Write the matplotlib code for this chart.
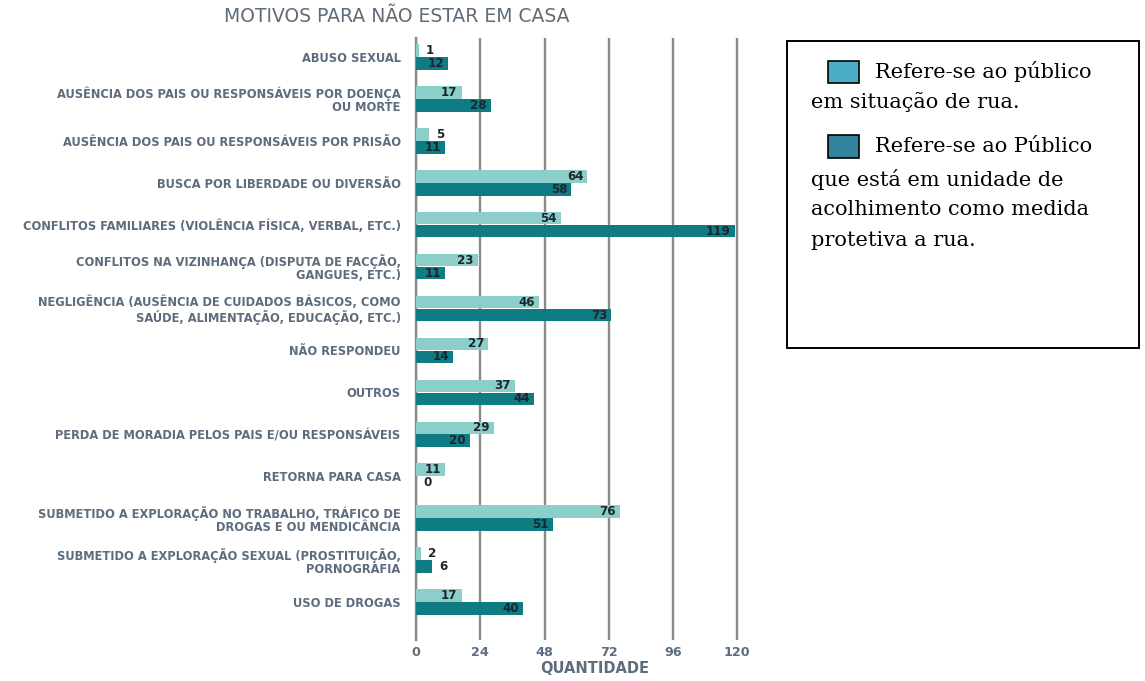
import matplotlib
matplotlib.use("Agg")
import matplotlib.pyplot as plt
from matplotlib.patches import Rectangle
import numpy as np

# dados
motivos = [
    "ABUSO SEXUAL",
    "AUSÊNCIA DOS PAIS OU RESPONSÁVEIS POR DOENÇA\nOU MORTE",
    "AUSÊNCIA DOS PAIS OU RESPONSÁVEIS POR PRISÃO",
    "BUSCA POR LIBERDADE OU DIVERSÃO",
    "CONFLITOS FAMILIARES (VIOLÊNCIA FÍSICA, VERBAL, ETC.)",
    "CONFLITOS NA VIZINHANÇA (DISPUTA DE FACÇÃO,\nGANGUES, ETC.)",
    "NEGLIGÊNCIA (AUSÊNCIA DE CUIDADOS BÁSICOS, COMO\nSAÚDE, ALIMENTAÇÃO, EDUCAÇÃO, ETC.)",
    "NÃO RESPONDEU",
    "OUTROS",
    "PERDA DE MORADIA PELOS PAIS E/OU RESPONSÁVEIS",
    "RETORNA PARA CASA",
    "SUBMETIDO A EXPLORAÇÃO NO TRABALHO, TRÁFICO DE\nDROGAS E OU MENDICÂNCIA",
    "SUBMETIDO A EXPLORAÇÃO SEXUAL (PROSTITUIÇÃO,\nPORNOGRAFIA",
    "USO DE DROGAS",
]
rua = [1, 17, 5, 64, 54, 23, 46, 27, 37, 29, 11, 76, 2, 17]
acolhimento = [12, 28, 11, 58, 119, 11, 73, 14, 44, 20, 0, 51, 6, 40]
xticks = [0, 24, 48, 72, 96, 120]

COR_CLARA = "#8ccfca"
COR_ESCURA = "#0f7b82"
COR_TEXTO = "#5d6d7e"
COR_VALOR = "#1c2630"
COR_GRADE = "#8a8a8a"
FONTE = "DejaVu Sans"

fig = plt.figure(figsize=(11.45, 6.81), dpi=100)
ax = fig.add_axes([416 / 1145, 1 - 640 / 681, 324 / 1145, 602 / 681])

y = np.arange(len(motivos))
h = 0.3
ax.barh(y - 0.155, rua, height=h, color=COR_CLARA, zorder=3)
ax.barh(y + 0.155, acolhimento, height=h, color=COR_ESCURA, zorder=3)

# rótulos de valor
for serie, desloc in [(rua, -0.155), (acolhimento, 0.155)]:
    for i, v in enumerate(serie):
        if v >= 10:
            ax.annotate(str(v), (v, i + desloc), xytext=(-4, 0), textcoords="offset pixels",
                        ha="right", va="center", fontsize=8.6, fontweight="bold",
                        color=COR_VALOR, family=FONTE, zorder=4)
        else:
            ax.annotate(str(v), (v, i + desloc), xytext=(7, 0), textcoords="offset pixels",
                        ha="left", va="center", fontsize=8.6, fontweight="bold",
                        color=COR_VALOR, family=FONTE, zorder=4)

ax.set_xlim(0, 121)
ax.set_ylim(len(motivos) - 1 + 0.907, -0.453)
ax.set_xticks(xticks)
ax.set_xticklabels([str(t) for t in xticks], fontsize=9.2, fontweight="bold",
                   color=COR_TEXTO, family=FONTE)
ax.set_yticks(y)
ax.set_yticklabels(motivos, fontsize=8.3, fontweight="bold", color=COR_TEXTO,
                   family=FONTE, linespacing=1.02)
ax.tick_params(axis="both", length=0)
ax.tick_params(axis="y", pad=11)
ax.tick_params(axis="x", pad=4)
ax.set_xlabel("QUANTIDADE", fontsize=10.5, fontweight="bold", color=COR_TEXTO,
              family=FONTE)
ax.xaxis.set_label_coords(0.552, -0.035)

for s in ["top", "right", "bottom"]:
    ax.spines[s].set_visible(False)
ax.spines["left"].set_color(COR_GRADE)
ax.spines["left"].set_linewidth(1.7)
ax.xaxis.grid(True, color=COR_GRADE, linewidth=1.7, zorder=0)
ax.set_axisbelow(True)

fig.text(397 / 1145, 1 - 16 / 681, "MOTIVOS PARA NÃO ESTAR EM CASA", ha="center", va="center",
         fontsize=13.5, color="#5f6c78", family=FONTE)

# caixa da legenda (à direita)
W, H = 1145, 681
fig.patches.append(Rectangle((787 / W, 1 - 348 / H), 352 / W, 307 / H, transform=fig.transFigure,
                             fill=False, edgecolor="black", linewidth=1.4))
fig.patches.append(Rectangle((828 / W, 1 - 83 / H), 31 / W, 22 / H, transform=fig.transFigure,
                             facecolor="#4bacc6", edgecolor="black", linewidth=1.2))
fig.patches.append(Rectangle((828 / W, 1 - 158 / H), 31 / W, 23 / H, transform=fig.transFigure,
                             facecolor="#31849b", edgecolor="black", linewidth=1.2))
serif = dict(fontsize=15, family="DejaVu Serif", color="black", va="center", ha="left")
fig.text(875 / W, 1 - 71 / H, "Refere-se ao público", **serif)
fig.text(811 / W, 1 - 102 / H, "em situação de rua.", **serif)
fig.text(875 / W, 1 - 147 / H, "Refere-se ao Público", **serif)
fig.text(811 / W, 1 - 179 / H, "que está em unidade de", **serif)
fig.text(811 / W, 1 - 210 / H, "acolhimento como medida", **serif)
fig.text(811 / W, 1 - 240 / H, "protetiva a rua.", **serif)

fig.savefig("out.png", dpi=100)
